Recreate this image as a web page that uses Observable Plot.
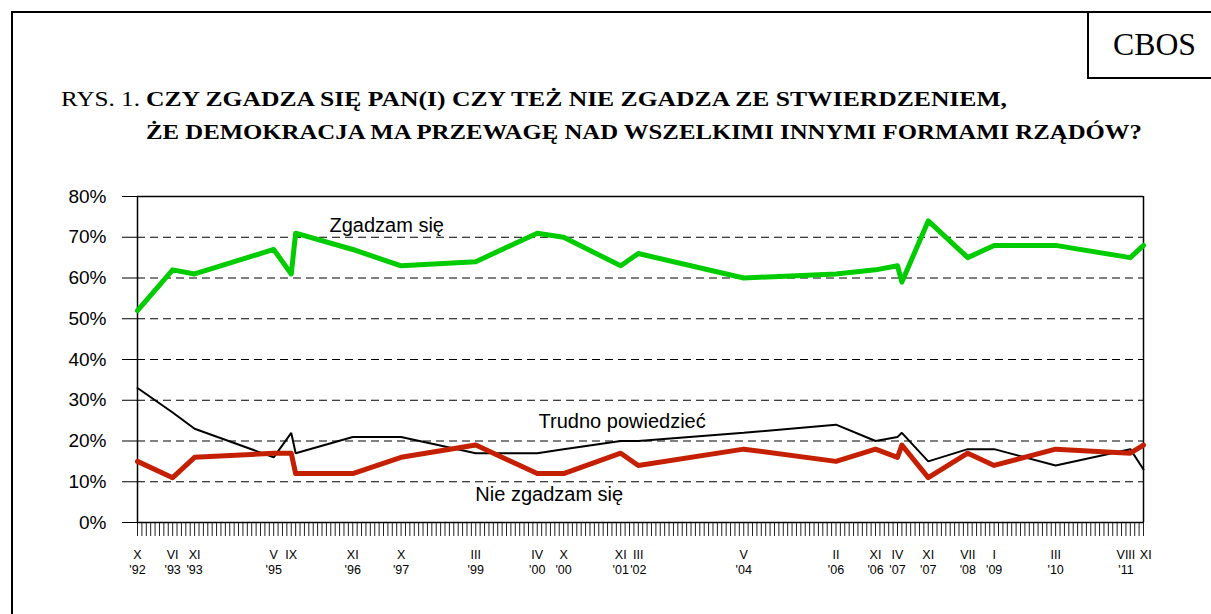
<!DOCTYPE html>
<html>
<head>
<meta charset="utf-8">
<script src="https://cdn.jsdelivr.net/npm/d3@7"></script>
<script src="https://cdn.jsdelivr.net/npm/@observablehq/plot@0.6"></script>
<style>
  body { margin: 0; background: #fff; }
  #wrap { position: relative; width: 1211px; height: 614px; overflow: hidden; background: #fff; }
  #frame { position: absolute; left: 11px; top: 11px; width: 1400px; height: 800px; border-left: 2px solid #000; border-top: 2px solid #000; }
  #cbos { position: absolute; left: 1087px; top: 11px; width: 200px; height: 66px; border-left: 2px solid #000; border-bottom: 2px solid #000; }
  #title { position: absolute; left: 0; top: 0; }
  #chart { position: absolute; left: 0; top: 0; }
</style>
</head>
<body>
<div id="wrap">
  <div id="frame"></div>
  <div id="cbos"></div>
  <svg id="title" width="1211" height="160" xmlns="http://www.w3.org/2000/svg">
    <text x="1113" y="55" font-family="Liberation Serif, Times New Roman, serif" font-size="32" textLength="83" lengthAdjust="spacingAndGlyphs">CBOS</text>
    <text x="61" y="106" font-family="Liberation Serif, Times New Roman, serif" font-size="21" textLength="79" lengthAdjust="spacingAndGlyphs">RYS. 1.</text>
    <text x="146" y="106" font-family="Liberation Serif, Times New Roman, serif" font-size="21" font-weight="bold" textLength="861" lengthAdjust="spacingAndGlyphs">CZY ZGADZA SIĘ PAN(I) CZY TEŻ NIE ZGADZA ZE STWIERDZENIEM,</text>
    <text x="146" y="139" font-family="Liberation Serif, Times New Roman, serif" font-size="21" font-weight="bold" textLength="996" lengthAdjust="spacingAndGlyphs">ŻE DEMOKRACJA MA PRZEWAGĘ NAD WSZELKIMI INNYMI FORMAMI RZĄDÓW?</text>
  </svg>
  <div id="chart"></div>
</div>
<script>
// survey positions on the monthly axis (0 = X '92 ... 229 = XI '11)
const surveyIdx = [0, 8, 13, 31, 35, 36, 49, 60, 77, 91, 97, 110, 114, 138, 159, 168, 173, 174, 180, 189, 195, 209, 226, 229];
const zgadzam   = [52, 62, 61, 67, 61, 71, 67, 63, 64, 71, 70, 63, 66, 60, 61, 62, 63, 59, 74, 65, 68, 68, 65, 68];
const trudno    = [33, 27, 23, 16, 22, 17, 21, 21, 17, 17, 18, 20, 20, 22, 24, 20, 21, 22, 15, 18, 18, 14, 18, 13];
const nie       = [15, 11, 16, 17, 17, 12, 12, 16, 19, 12, 12, 17, 14, 18, 15, 18, 16, 19, 11, 17, 14, 18, 17, 19];

// x tick labels
const labelIdx   = [0, 8, 13, 31, 35, 49, 60, 77, 91, 97, 110, 114, 138, 159, 168, 173, 180, 189, 195, 209, 225, 229.5];
const labelMonth = ["X", "VI", "XI", "V", "IX", "XI", "X", "III", "IV", "X", "XI", "III", "V", "II", "XI", "IV", "XI", "VII", "I", "III", "VIII", "XI"];
const labelYear  = ["'92", "'93", "'93", "'95", "", "'96", "'97", "'99", "'00", "'00", "'01", "'02", "'04", "'06", "'06", "'07", "'07", "'08", "'09", "'10", "'11", ""];

const monthCount = 229;
const yTicks = [0, 10, 20, 30, 40, 50, 60, 70, 80];
const gridTicks = [10, 20, 30, 40, 50, 60, 70];

// series labels (anchored in data units)
const seriesNames = ["Zgadzam się", "Trudno powiedzieć", "Nie zgadzam się"];
const seriesLabelX = [43.7, 91.3, 76.9];
const seriesLabelY = [71.2, 23.3, 5.2];

const rows = surveyIdx.map((x, i) => ({x, zg: zgadzam[i], tr: trudno[i], nie: nie[i]}));
const labelMap = new Map(labelIdx.map((x, i) => [x, labelYear[i] ? labelMonth[i] + "\n" + labelYear[i] : labelMonth[i]]));
const seriesLabels = seriesNames.map((t, i) => ({t, x: seriesLabelX[i], y: seriesLabelY[i]}));

const chart = Plot.plot({
  width: 1211,
  height: 614,
  marginLeft: 137,
  marginRight: 68,
  marginTop: 196,
  marginBottom: 92,
  style: {fontFamily: "Liberation Sans, Arial, sans-serif", background: "transparent", overflow: "visible", color: "#000"},
  x: {domain: [0, monthCount], axis: null, label: null},
  y: {domain: [0, 80], axis: null, label: null},
  marks: [
    Plot.ruleY(gridTicks, {stroke: "#000", strokeWidth: 1, strokeDasharray: "8,5"}),
    Plot.ruleY([80], {stroke: "#000", strokeWidth: 1.5}),
    Plot.ruleX([monthCount], {stroke: "#000", strokeWidth: 1.5}),
    Plot.axisY({ticks: yTicks, tickSize: 15, tickPadding: 16, tickFormat: d => d + "%", fontSize: 19, label: null, stroke: "#000"}),
    Plot.axisX({ticks: d3.range(0, monthCount + 1), tickSize: 14, tickFormat: () => "", label: null, stroke: "#222"}),
    Plot.axisX({ticks: labelIdx, tickSize: 0, tickPadding: 26, tickFormat: d => labelMap.get(d), fontSize: 12.5, lineHeight: 1.18, label: null}),
    Plot.ruleX([0], {stroke: "#000", strokeWidth: 1.5}),
    Plot.ruleY([0], {stroke: "#000", strokeWidth: 1.5}),
    Plot.line(rows, {x: "x", y: "tr", stroke: "#000", strokeWidth: 2, strokeLinejoin: "miter"}),
    Plot.line(rows, {x: "x", y: "nie", stroke: "#c42000", strokeWidth: 5, strokeLinejoin: "round"}),
    Plot.line(rows, {x: "x", y: "zg", stroke: "#00cc00", strokeWidth: 5, strokeLinejoin: "round"}),
    Plot.text(seriesLabels, {x: "x", y: "y", text: "t", textAnchor: "start", lineAnchor: "bottom", fontSize: 20, fill: "#000"})
  ]
});
document.getElementById("chart").appendChild(chart);
</script>
</body>
</html>
